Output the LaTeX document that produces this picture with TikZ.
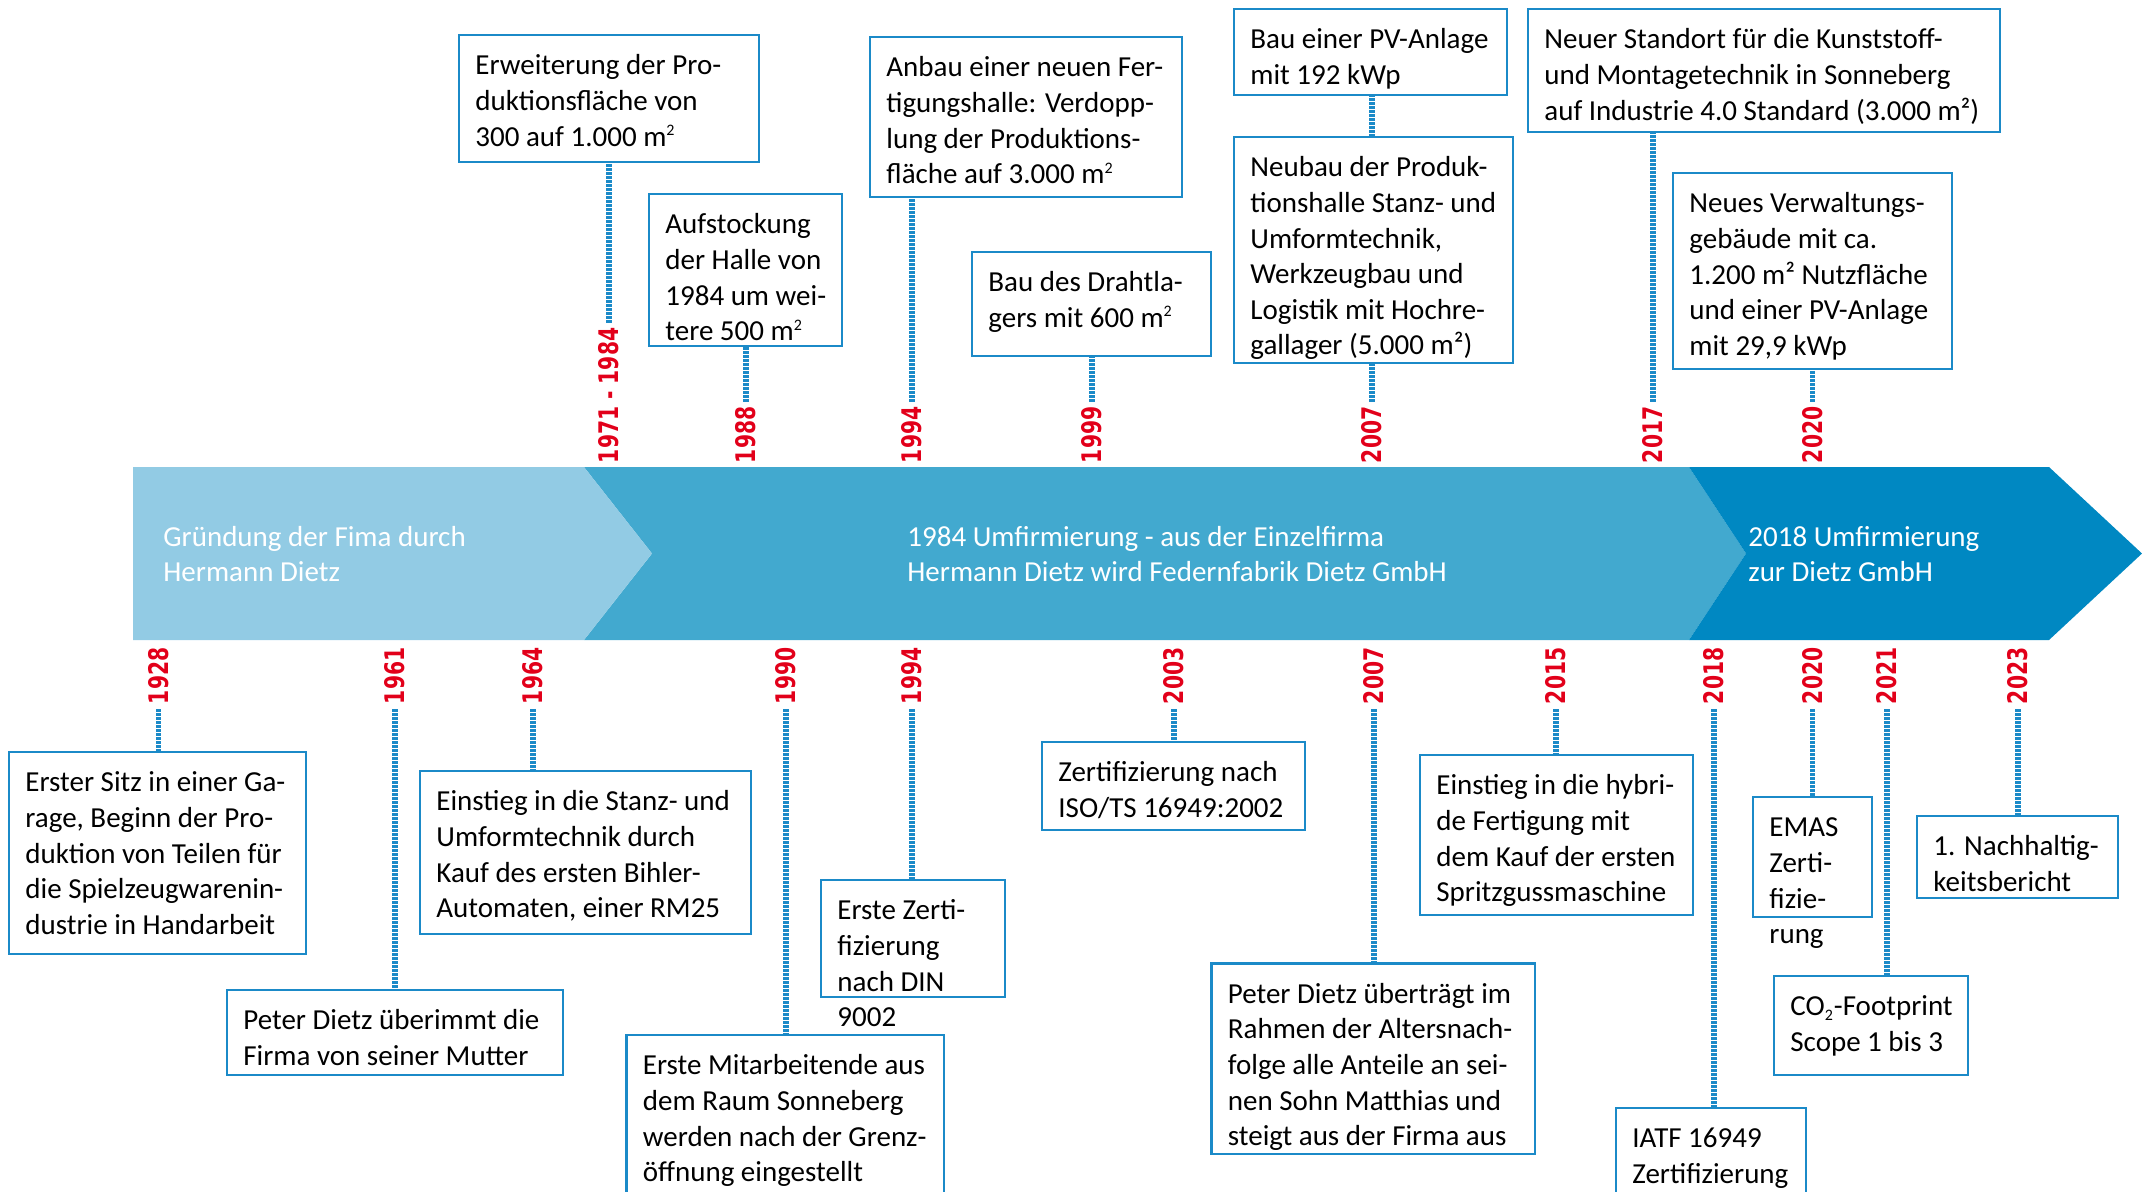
\documentclass[tikz,border=0pt]{standalone}
\usepackage{fontspec}
\setmainfont{Carlito}
\newfontfamily\yearfont{DejaVu Sans}
\usetikzlibrary{calc}
\definecolor{lightbar}{RGB}{146,203,228}
\definecolor{midbar}{RGB}{66,169,207}
\definecolor{darkbar}{RGB}{0,136,194}
\definecolor{lineblue}{RGB}{27,138,200}
\definecolor{yearred}{RGB}{226,0,26}
\tikzset{
  boxst/.style={draw=lineblue, line width=1.35pt, inner sep=0pt, outer sep=0pt, anchor=north west},
  txt/.style={font=\fontsize{14.5}{17.8}\selectfont, align=left, inner sep=0pt, anchor=north west},
  bartxt/.style={txt, text=white},
  yr/.style={text=yearred, font=\yearfont\bfseries\fontsize{13.5}{13.5}\selectfont, inner sep=0pt, outer sep=2.5pt, rotate=90, anchor=west},
  dotln/.style={draw=lineblue, line width=2.8pt, dash pattern=on 1.3pt off 0.7pt},
}
\newcommand\sq{\textsuperscript{\fontsize{8}{8}\selectfont 2}}
\newcommand\evbox[6]{%
  \node[boxst, minimum width={(#4-(#2))*0.5pt}, minimum height={(#5-(#3))*0.5pt}] (#1) at (#2,#3) {};
  \node[txt] (#1t) at ($(#1.north west)+(16,14.5)$) {\strut #6};
}
\newcommand\yrlab[4]{% name x y text
  \node[yr] (#1) at (#2,#3) {\scalebox{0.75}[1]{#4}};
}
\begin{document}
\begin{tikzpicture}[x=0.5pt,y=-0.5pt]
\useasboundingbox (0,0) rectangle (2142,1191);
% bar
\fill[midbar] (584,467) -- (1689,467) -- (1746,553.5) -- (1689,640) -- (584,640) -- (652,553.5) -- cycle;
\fill[darkbar] (1689,467) -- (2049,467) -- (2142,553.5) -- (2049,640) -- (1689,640) -- (1746,553.5) -- cycle;
\fill[lightbar] (133,467) -- (584,467) -- (652,553.5) -- (584,640) -- (133,640) -- cycle;
\node[bartxt] (t1) at (163,521) {\strut Gründung der Fima durch\\Hermann Dietz};
\node[bartxt] (t2) at (907,521) {\strut 1984 Umfirmierung - aus der Einzelfirma\\Hermann Dietz wird Federnfabrik Dietz GmbH};
\node[bartxt] (t3) at (1748,521) {\strut 2018 Umfirmierung\\zur Dietz GmbH};

% upper boxes
\evbox{b7184}{459}{35}{759}{162}{Erweiterung der Pro-\\duktionsfläche von\\300 auf 1.000 m\sq}
\evbox{b1988}{649}{194}{842}{346}{Aufstockung\\der Halle von\\1984 um wei-\\tere 500 m\sq}
\evbox{b1994u}{870}{37}{1182}{197}{Anbau einer neuen Fer-\\tigungshalle: Verdopp-\\lung der Produktions-\\fläche auf 3.000 m\sq}
\evbox{b1999}{972}{252}{1211}{356}{Bau des Drahtla-\\gers mit 600 m\sq}
\evbox{b2007a}{1234}{9}{1507}{95}{Bau einer PV-Anlage\\mit 192 kWp}
\evbox{b2007b}{1234}{137}{1513}{363}{Neubau der Produk-\\tionshalle Stanz- und\\Umformtechnik,\\Werkzeugbau und\\Logistik mit Hochre-\\gallager (5.000 m²)}
\evbox{b2017}{1528}{9}{2000}{132}{Neuer Standort für die Kunststoff-\\und Montagetechnik in Sonneberg\\auf Industrie 4.0 Standard (3.000 m²)}
\evbox{b2020u}{1673}{173}{1952}{369}{Neues Verwaltungs-\\gebäude mit ca.\\1.200 m² Nutzfläche\\und einer PV-Anlage\\mit 29,9 kWp}

% lower boxes
\evbox{b1928}{9}{752}{306}{954}{Erster Sitz in einer Ga-\\rage, Beginn der Pro-\\duktion von Teilen für\\die Spielzeugwarenin-\\dustrie in Handarbeit}
\evbox{b1961}{227}{990}{563}{1075}{Peter Dietz überimmt die\\Firma von seiner Mutter}
\evbox{b1964}{420}{771}{751}{934}{Einstieg in die Stanz- und\\Umformtechnik durch\\Kauf des ersten Bihler-\\Automaten, einer RM25}
\evbox{b1990}{626.5}{1035}{944}{1240}{Erste Mitarbeitende aus\\dem Raum Sonneberg\\werden nach der Grenz-\\öffnung eingestellt}
\evbox{b1994l}{821}{880}{1005}{997}{Erste Zerti-\\fizierung\\nach DIN\\9002}
\evbox{b2003}{1042}{742}{1305}{830}{Zertifizierung nach\\ISO/TS 16949:2002}
\evbox{b2007l}{1211.5}{963.5}{1535}{1154}{Peter Dietz überträgt im\\Rahmen der Altersnach-\\folge alle Anteile an sei-\\nen Sohn Matthias und\\steigt aus der Firma aus}
\evbox{b2015}{1420}{755}{1693}{915}{Einstieg in die hybri-\\de Fertigung mit\\dem Kauf der ersten\\Spritzgussmaschine}
\evbox{b2018}{1616}{1108}{1806}{1240}{IATF 16949\\Zertifizierung}
\evbox{b2020l}{1753}{797}{1872}{917}{EMAS\\Zerti-\\fizie-\\rung}
\evbox{b2021}{1774}{976}{1968}{1075}{CO\textsubscript{\fontsize{8}{8}\selectfont 2}-Footprint\\Scope 1 bis 3}
\evbox{b2023}{1917}{816}{2118}{898}{1. Nachhaltig-\\keitsbericht}

% upper years
\yrlab{y7184}{609}{468}{1971 - 1984}
\yrlab{y1988}{746}{468}{1988}
\yrlab{y1994u}{912}{468}{1994}
\yrlab{y1999}{1092}{468}{1999}
\yrlab{y2007u}{1372}{468}{2007}
\yrlab{y2017}{1653}{468}{2017}
\yrlab{y2020u}{1812.5}{468}{2020}

% lower years
\yrlab{y1928}{158.5}{709}{1928}
\yrlab{y1961}{395}{709}{1961}
\yrlab{y1964}{533}{709}{1964}
\yrlab{y1990}{786}{709}{1990}
\yrlab{y1994l}{912}{709}{1994}
\yrlab{y2003}{1174}{709}{2003}
\yrlab{y2007l}{1374}{709}{2007}
\yrlab{y2015}{1556}{709}{2015}
\yrlab{y2018}{1714}{709}{2018}
\yrlab{y2020l}{1812.5}{709}{2020}
\yrlab{y2021}{1887}{709}{2021}
\yrlab{y2023}{2018}{709}{2023}

% upper connectors
\foreach \y/\b in {y7184/b7184, y1988/b1988, y1994u/b1994u, y1999/b1999, y2007u/b2007b, y2017/b2017, y2020u/b2020u}
  \draw[dotln] (\y.east) -- (\y.east |- \b.south);
\draw[dotln] (y2007u.east |- b2007b.north) -- (y2007u.east |- b2007a.south);

% lower connectors
\foreach \y/\b in {y1928/b1928, y1961/b1961, y1964/b1964, y1990/b1990, y1994l/b1994l, y2003/b2003, y2007l/b2007l, y2015/b2015, y2018/b2018, y2020l/b2020l, y2021/b2021, y2023/b2023}
  \draw[dotln] (\y.west) -- (\y.west |- \b.north);
\end{tikzpicture}
\end{document}
